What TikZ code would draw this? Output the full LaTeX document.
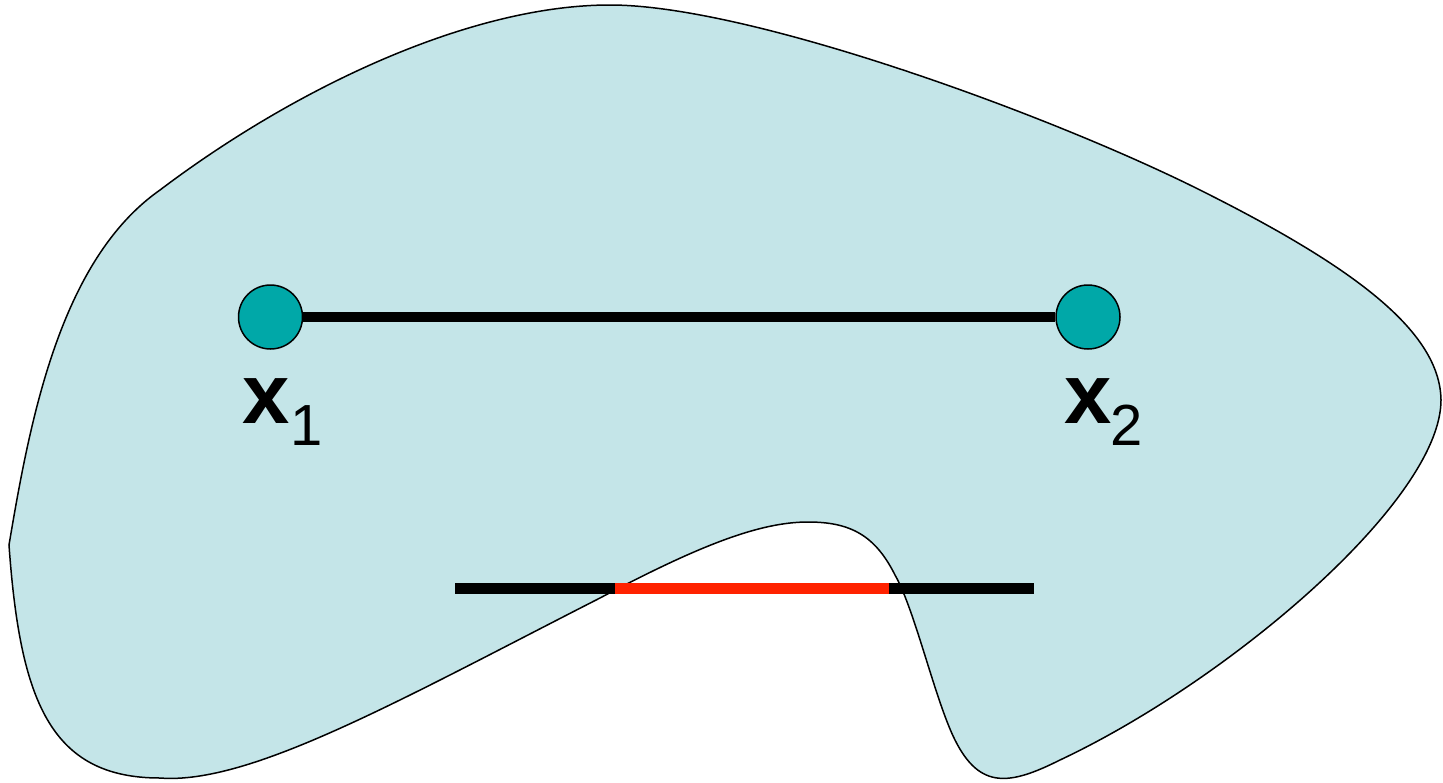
\documentclass[tikz,border=0pt]{standalone}
\usepackage{fontspec}
\setmainfont{Liberation Sans}
\definecolor{region}{RGB}{196,229,232}
\definecolor{pointfill}{RGB}{0,168,168}
\definecolor{segred}{RGB}{255,34,0}
\begin{document}
\begin{tikzpicture}[x=1pt,y=-1pt,
  pointnode/.style={circle,draw=black,line width=1.5pt,fill=pointfill,minimum size=64pt,inner sep=0pt},
  seg/.style={line width=10pt,line cap=butt},
  lbl/.style={anchor=base west,inner sep=0pt,font=\fontsize{85}{90}\selectfont\bfseries},
  sub/.style={anchor=base west,inner sep=0pt,font=\fontsize{58}{62}\selectfont}]
\useasboundingbox (0,0) rectangle (1443,782);
% region
\draw[fill=region,line width=1.5pt]
  (9,545) .. controls (30,420) and (60,260) .. (160,190)
  .. controls (295,88) and (470,5) .. (610,5)
  .. controls (750,5) and (1050,115) .. (1200,190)
  .. controls (1350,265) and (1440,330) .. (1441,400)
  .. controls (1441,500) and (1230,680) .. (1060,760)
  .. controls (1010,785) and (980,790) .. (955,740)
  .. controls (935,700) and (915,610) .. (895,575)
  .. controls (875,535) and (850,522) .. (808,522)
  .. controls (760,522) and (700,545) .. (600,598)
  .. controls (400,700) and (250,785) .. (160,778)
  .. controls (50,778) and (20,700) .. (9,545) -- cycle;
% points
\node[pointnode] (x1) at (270.5,317) {};
\node[pointnode] (x2) at (1088,317) {};
\draw[seg] (x1) -- (x2);
\node[lbl] (l1) at (242,423) {x};
\node[sub] (s1) at (290,445) {1};
\node[lbl] (l2) at (1064,423) {x};
\node[sub] (s2) at (1110,445) {2};
% lower segment
\coordinate (a) at (455,588.5);
\coordinate (b) at (615,588.5);
\coordinate (c) at (889,588.5);
\coordinate (d) at (1034,588.5);
\draw[seg,line width=11pt] (a) -- (d);
\draw[seg,line width=11pt,segred] (b) -- (c);
\end{tikzpicture}
\end{document}
